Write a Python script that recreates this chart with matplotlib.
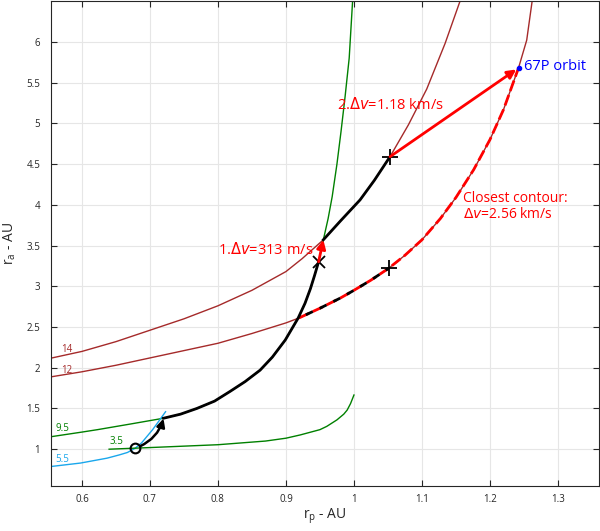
import matplotlib.pyplot as plt

plt.rcParams['font.family'] = ['Open Sans', 'DejaVu Sans']

# dv contours in (rp, ra) space, km/s
c14_rp = [0.556, 0.6, 0.65, 0.7, 0.75, 0.8, 0.85, 0.9, 0.924, 0.955, 0.98, 1.009, 1.03, 1.053, 1.08, 1.107, 1.134, 1.156]
c14_ra = [2.12, 2.2, 2.32, 2.46, 2.6, 2.76, 2.95, 3.18, 3.34, 3.57, 3.8, 4.06, 4.3, 4.59, 4.98, 5.42, 5.98, 6.5]

c12_rp = [0.556, 0.6, 0.65, 0.7, 0.75, 0.8, 0.85, 0.9, 0.919, 0.95, 0.98, 1.0, 1.025, 1.051,
          1.075, 1.1, 1.127, 1.15, 1.176, 1.2, 1.22, 1.242, 1.254, 1.262]
c12_ra = [1.89, 1.95, 2.03, 2.12, 2.21, 2.3, 2.42, 2.55, 2.61, 2.73, 2.855, 2.95, 3.075, 3.22,
          3.38, 3.57, 3.83, 4.09, 4.43, 4.8, 5.17, 5.68, 6.02, 6.5]

c95_rp = [0.556, 0.6, 0.623, 0.672, 0.72, 0.745, 0.769, 0.795, 0.818, 0.84, 0.862, 0.88, 0.899,
          0.918, 0.928, 0.936, 0.942, 0.948, 0.955, 0.962, 0.968, 0.975, 0.981, 0.987, 0.993, 0.998]
c95_ra = [1.155, 1.21, 1.24, 1.31, 1.38, 1.43, 1.50, 1.59, 1.71, 1.83, 1.97, 2.13, 2.34,
          2.61, 2.79, 2.97, 3.13, 3.30, 3.57, 3.83, 4.1, 4.5, 4.9, 5.33, 5.8, 6.5]

c55_rp = [0.557, 0.598, 0.637, 0.655, 0.667, 0.678, 0.688, 0.696, 0.704, 0.711, 0.723]
c55_ra = [0.79, 0.83, 0.89, 0.93, 0.96, 1.01, 1.08, 1.16, 1.24, 1.32, 1.46]

c35_rp = [0.64, 0.7, 0.8, 0.87, 0.9, 0.921, 0.95, 0.96, 0.975, 0.985, 0.99, 0.995, 1.0]
c35_ra = [1.0, 1.02, 1.055, 1.1, 1.135, 1.175, 1.24, 1.28, 1.36, 1.43, 1.48, 1.56, 1.665]

# transfer points
start = (0.678, 1.01)
burn1 = (0.948, 3.30)
after1 = (0.955, 3.57)
burn2 = (1.053, 4.59)
comet = (1.242, 5.68)
closest = (1.051, 3.22)

darkred = '#A52A2A'
green = '#008000'
cyan = '#1AA7EC'

fig = plt.figure(figsize=(6, 5.31), dpi=100)
ax = fig.add_axes([0.0855, 0.085, 0.9125, 0.913])

ax.plot(c14_rp, c14_ra, color=darkred, lw=1)
ax.plot(c12_rp, c12_ra, color=darkred, lw=1)
ax.plot(c95_rp, c95_ra, color=green, lw=1)
ax.plot(c55_rp, c55_ra, color=cyan, lw=1)
ax.plot(c35_rp, c35_ra, color=green, lw=1)

# closest contour, red dashes, black dashes on the lower part
ax.plot(c12_rp[8:22], c12_ra[8:22], color='red', lw=2, ls=(0, (4, 1.5)))
ax.plot(c12_rp[8:14], c12_ra[8:14], color='black', lw=2, ls=(2.75, (2.75, 2.75)))

# trajectory
ax.plot(c95_rp[4:18], c95_ra[4:18], color='black', lw=2)
ax.plot(c14_rp[9:14], c14_ra[9:14], color='black', lw=2)
ax.annotate('', xy=(0.72, 1.375), xytext=start,
            arrowprops=dict(arrowstyle='-|>', color='black', lw=1.8,
                            connectionstyle='arc3,rad=0.25', mutation_scale=12,
                            shrinkA=4, shrinkB=0))
ax.plot(*start, marker='o', ms=7, mfc='none', mec='black', mew=1.5)
ax.plot(*burn1, marker='x', ms=8, color='black', mew=1.3)
ax.plot(*burn2, marker='+', ms=11, color='black', mew=1.3)
ax.plot(*closest, marker='+', ms=11, color='black', mew=1.3)

ax.annotate('', xy=after1, xytext=burn1,
            arrowprops=dict(arrowstyle='-|>', color='red', lw=2,
                            mutation_scale=13, shrinkA=0, shrinkB=0))
ax.annotate('', xy=comet, xytext=burn2,
            arrowprops=dict(arrowstyle='-|>', color='red', lw=2,
                            mutation_scale=13, shrinkA=0, shrinkB=2))
ax.plot(*comet, marker='o', ms=3, color='blue')

ax.text(comet[0] + 0.008, comet[1] + 0.02, '67P orbit', color='blue', fontsize=10.5,
        va='center', ha='left')
ax.text(0.94, 3.44, r'1.$\Delta v$=313 m/s', color='red', fontsize=10.5,
        ha='right', va='center')
ax.text(0.975, 5.22, r'2.$\Delta v$=1.18 km/s', color='red', fontsize=10.5,
        ha='left', va='center')
ax.text(1.161, 3.98, 'Closest contour:\n' + r'$\Delta v$=2.56 km/s', color='red',
        fontsize=10, ha='left', va='center', linespacing=1.1)

# contour labels
ax.text(0.57, 2.22, '14', color=darkred, fontsize=7, ha='left', va='center')
ax.text(0.57, 1.96, '12', color=darkred, fontsize=7, ha='left', va='center')
ax.text(0.561, 1.26, '9.5', color=green, fontsize=7, ha='left', va='center')
ax.text(0.561, 0.87, '5.5', color=cyan, fontsize=7, ha='left', va='center')
ax.text(0.64, 1.1, '3.5', color=green, fontsize=7, ha='left', va='center')

ax.set_xlim(0.555, 1.36)
ax.set_ylim(0.55, 6.5)
ax.set_xticks([0.6, 0.7, 0.8, 0.9, 1.0, 1.1, 1.2, 1.3])
ax.set_xticklabels(['0.6', '0.7', '0.8', '0.9', '1', '1.1', '1.2', '1.3'])
ax.set_yticks([1, 1.5, 2, 2.5, 3, 3.5, 4, 4.5, 5, 5.5, 6])
ax.set_yticklabels(['1', '1.5', '2', '2.5', '3', '3.5', '4', '4.5', '5', '5.5', '6'])
ax.tick_params(direction='in', top=True, right=True, labelsize=7, colors='#262626',
               length=4, width=0.8)
ax.tick_params(axis='x', pad=6)
ax.tick_params(axis='y', pad=8)
ax.grid(True, color='#e6e6e6', lw=0.8)
ax.set_axisbelow(True)
for s in ax.spines.values():
    s.set_color('#262626')
    s.set_linewidth(0.8)

ax.set_xlabel(r'r$_\mathregular{p}$ - AU', fontsize=10, color='#262626', labelpad=1)
ax.set_ylabel(r'r$_\mathregular{a}$ - AU', fontsize=10, color='#262626', labelpad=6)

fig.savefig('out.png', dpi=100)
